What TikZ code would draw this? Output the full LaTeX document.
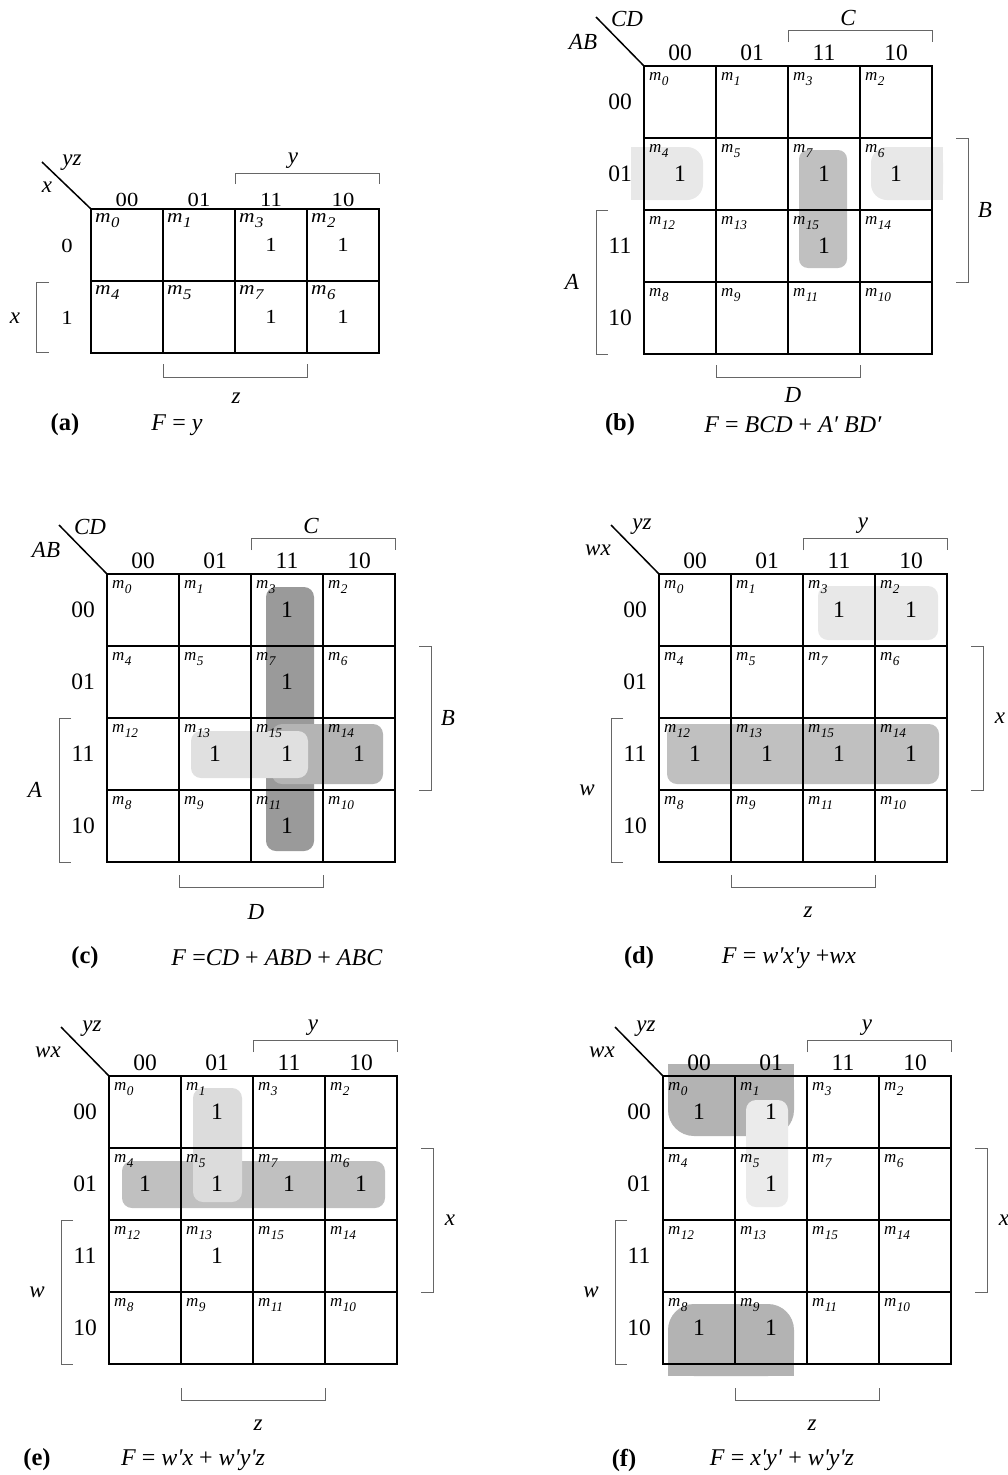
\documentclass[tikz,border=0pt]{standalone}
\usepackage{graphicx}
\usepackage{fontspec}
\setmainfont{Liberation Serif}
\definecolor{gL}{HTML}{E8E8E8}
\definecolor{gD}{HTML}{C0C0C0}
\definecolor{cD}{HTML}{9A9A9A}
\definecolor{cM}{HTML}{B4B4B4}
\definecolor{cL}{HTML}{E0E0E0}
\definecolor{eL}{HTML}{DCDCDC}
\definecolor{fD}{HTML}{B3B3B3}
\definecolor{fL}{HTML}{EBEBEB}
\tikzset{
 gridl/.style={line width=2pt, black},
 brk/.style={line width=1pt, black!60},
 diag/.style={line width=1.5pt, black},
 dig/.style={font=\fontsize{23.5}{23.5}\selectfont, inner sep=0pt},
 digA/.style={font=\fontsize{20}{20}\selectfont, inner sep=0pt},
 var/.style={font=\fontsize{23}{23}\selectfont\itshape, inner sep=0pt},
 mlab/.style={font=\fontsize{17}{17}\selectfont, inner sep=0pt, anchor=base west},
 mlabA/.style={font=\fontsize{19}{19}\selectfont, inner sep=0pt, anchor=base west},
 captxt/.style={font=\fontsize{24.5}{24.5}\selectfont\bfseries, inner sep=0pt},
 capF/.style={font=\fontsize{24}{24}\selectfont, inner sep=0pt},
}
\newcommand\Mt[1]{\textit{m}\kern0.3pt\raisebox{-0.3em}{\scalebox{0.78}{\textit{#1}}}}
\newcommand\Ax[1]{\scalebox{1.13}[1]{#1}}
% #1 prefix, #2 shift, #3 col vars, #4 row vars, #5 top, #6 right, #7 left, #8 bottom, #9 bottom bracket y
\newcommand\KFour[9]{%
\begin{scope}[shift={#2}]
 \draw[gridl] (0,0) rectangle (288,288);
 \foreach \ki in {72,144,216} {\draw[gridl] (\ki,0) -- (\ki,288); \draw[gridl] (0,\ki) -- (288,\ki);}
 \draw[diag] (0,0) -- (-48,-49);
 \node[var] (#1-cv) at (-17,-47) {#3};
 \node[var] (#1-rv) at (-61,-24) {#4};
 \foreach \kc/\kt in {0/00,1/01,2/11,3/10} {
   \node[dig] (#1-h\kc) at ({72*\kc+36},-13) {\kt};
   \node[dig] (#1-r\kc) at (-24,{72*\kc+36}) {\kt};
 }
 \foreach \kr/\krc in {0/0,1/1,2/3,3/2} {\foreach \kc/\kcc in {0/0,1/1,2/3,3/2} {
   \pgfmathtruncatemacro\kmi{4*\krc+\kcc}
   \node[mlab] (#1-m\kmi) at ({72*\kc+5},{72*\kr+14}) {\Mt{\kmi}};
 }}
 \draw[brk] (144,-24) -- (144,-36) -- (288,-36) -- (288,-24);
 \node[var] (#1-tv) at (204,-48) {#5};
 \draw[brk] (312,72) -- (324,72) -- (324,216) -- (312,216);
 \node[var] (#1-rtv) at (341,144) {#6};
 \draw[brk] (-36,144) -- (-48,144) -- (-48,288) -- (-36,288);
 \node[var] (#1-lv) at (-72,216) {#7};
 \draw[brk] (72,#9-12) -- (72,#9) -- (216,#9) -- (216,#9-12);
 \node[var] (#1-bv) at (149,#9+\KLoff) {#8};
\end{scope}}
\newcommand\KOnes[3]{%
\begin{scope}[shift={#2}]
 \foreach \kr/\kc in {#3} {\node[dig] (#1-one\kr\kc) at ({72*\kc+36},{72*\kr+36}) {1};}
\end{scope}}
\begin{document}
\begin{tikzpicture}[x=1pt,y=-1pt]
\useasboundingbox[fill=white] (0,0) rectangle (1007,1475);

% ---------------- (a) ----------------
\begin{scope}[shift={(91,209)}]
 \draw[gridl] (0,0) rectangle (288,144);
 \foreach \ki in {72,144,216} {\draw[gridl] (\ki,0) -- (\ki,144);}
 \draw[gridl] (0,72) -- (288,72);
 \draw[diag] (0,0) -- (-49,-47);
 \node[var] (a-cv) at (-19,-46) {yz};
 \node[var] (a-rv) at (-44,-22) {x};
 \foreach \kc/\kt in {0/00,1/01,2/11,3/10} {\node[digA] (a-h\kc) at ({72*\kc+36},-9) {\Ax{\kt}};}
 \node[digA] (a-r0) at (-24,37) {\Ax{0}};
 \node[digA] (a-r1) at (-24,109) {\Ax{1}};
 \foreach \kr/\krc in {0/0,1/1} {\foreach \kc/\kcc in {0/0,1/1,2/3,3/2} {
   \pgfmathtruncatemacro\kmi{4*\krc+\kcc}
   \node[mlabA] (a-m\kmi) at ({72*\kc+4},{72*\kr+13}) {\Ax{\Mt{\kmi}}};
 }}
 \foreach \kr/\kc in {0/2,0/3,1/2,1/3} {\node[digA] (a-one\kr\kc) at ({72*\kc+36},{72*\kr+36}) {\Ax{1}};}
 \draw[brk] (144,-25) -- (144,-36) -- (288,-36) -- (288,-25);
 \node[var] (a-tv) at (202,-48) {y};
 \draw[brk] (-42,73) -- (-55,73) -- (-55,143) -- (-42,143);
 \node[var] (a-lv) at (-76,109) {x};
 \draw[brk] (72,155) -- (72,168) -- (216,168) -- (216,155);
 \node[var] (a-bv) at (145,189) {z};
\end{scope}
\node[captxt] (a-cap) at (65,425) {(a)};
\node[capF] (a-F) at (177,425) {\textit{F} = \textit{y}};

% ---------------- (b) ----------------
\begin{scope}[shift={(644,66)}]
 \fill[gL, rounded corners=16] (-13,81) rectangle (59,134);
 \fill[gL] (-13,81) rectangle (30,134);
 \fill[gL, rounded corners=16] (227,81) rectangle (299,134);
 \fill[gL] (260,81) rectangle (299,134);
 \fill[gD, rounded corners=9] (155,84) rectangle (203,202);
\end{scope}
\def\KLoff{18}
\KFour{b}{(644,66)}{CD}{AB}{C}{B}{A}{D}{311}
\KOnes{b}{(644,66)}{1/0,1/2,1/3,2/2}
\node[captxt] (b-cap) at (620,425) {(b)};
\node[capF] (b-F) at (793,425) {\textit{F} = \textit{BCD} + \textit{A′ BD′}};

% ---------------- (c) ----------------
\begin{scope}[shift={(107,574)}]
 \fill[cD, rounded corners=10] (159,13) rectangle (207,277);
 \fill[cM, rounded corners=10] (165,150) rectangle (276,210);
 \fill[cL, rounded corners=10] (84,157) rectangle (201,204);
\end{scope}
\def\KLoff{25}
\KFour{c}{(107,574)}{CD}{AB}{C}{B}{A}{D}{313}
\KOnes{c}{(107,574)}{0/2,1/2,2/1,2/2,2/3,3/2}
\node[captxt] (c-cap) at (85,958) {(c)};
\node[capF] (c-F) at (277,958) {\textit{F} =\textit{CD} + \textit{ABD} + \textit{ABC}};

% ---------------- (d) ----------------
\begin{scope}[shift={(659,574)}]
 \fill[gL, rounded corners=10] (159,12) rectangle (279,66);
 \fill[gD, rounded corners=10] (8,150) rectangle (280,210);
\end{scope}
\KFour{d}{(659,574)}{yz}{wx}{y}{x}{w}{z}{313}
\KOnes{d}{(659,574)}{0/2,0/3,2/0,2/1,2/2,2/3}
\node[captxt] (d-cap) at (639,958) {(d)};
\node[capF] (d-F) at (789,958) {\textit{F} = \textit{w\textquotesingle x\textquotesingle y} +\textit{wx}};

% ---------------- (e) ----------------
\begin{scope}[shift={(109,1076)}]
 \fill[gD, rounded corners=10] (13,85) rectangle (276,132);
 \fill[eL, rounded corners=10] (84,12) rectangle (133,126);
\end{scope}
\KFour{e}{(109,1076)}{yz}{wx}{y}{x}{w}{z}{324}
\KOnes{e}{(109,1076)}{0/1,1/0,1/1,1/2,1/3,2/1}
\node[captxt] (e-cap) at (37,1460) {(e)};
\node[capF] (e-F) at (193,1460) {\textit{F} = \textit{w\textquotesingle x} + \textit{w\textquotesingle y\textquotesingle z}};

% ---------------- (f) ----------------
\begin{scope}[shift={(663,1076)}]
 \fill[fD, rounded corners=26] (5,-12) rectangle (131,60);
 \fill[fD] (5,-12) rectangle (131,20);
 \fill[fD, rounded corners=26] (5,228) rectangle (131,300);
 \fill[fD] (5,270) rectangle (131,300);
 \fill[fL, rounded corners=10] (83,24) rectangle (125,131);
\end{scope}
\KFour{f}{(663,1076)}{yz}{wx}{y}{x}{w}{z}{324}
\KOnes{f}{(663,1076)}{0/0,0/1,1/1,3/0,3/1}
\node[captxt] (f-cap) at (624,1460) {(f)};
\node[capF] (f-F) at (782,1460) {\textit{F} = \textit{x\textquotesingle y\textquotesingle} + \textit{w\textquotesingle y\textquotesingle z}};
\end{tikzpicture}
\end{document}
